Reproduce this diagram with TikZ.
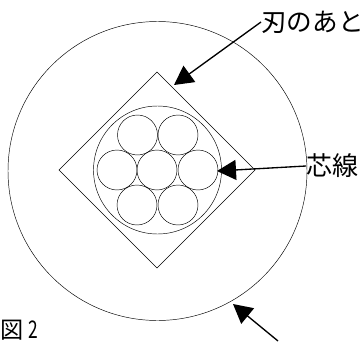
\documentclass[tikz,border=0pt]{standalone}
\usepackage{fontspec}
\newfontfamily\cjk{Noto Sans CJK JP}
\usetikzlibrary{arrows.meta,positioning}
\tikzset{
    wire/.style={draw,circle,inner sep=0pt,minimum size=#1,line width=0.65pt},
    arr/.style={-{Triangle[length=0.95cm,width=1cm]},line width=1.9pt},
    lab/.style={font=\cjk\fontsize{#1}{#1}\selectfont,inner sep=0pt}
}
\begin{document}
\begin{tikzpicture}[x=0.05cm,y=-0.05cm]
\useasboundingbox (0,0) rectangle (364,342);
\node[wire=14.95cm] (outer) at (157.5,171) {};
\node[wire=6.4cm] (core) at (157.5,170) {};
\draw[line width=0.65pt] (157,72) coordinate (dtop) -- (255,170) coordinate (dright)
    -- (157,268) coordinate (dbot) -- (59,170) coordinate (dleft) -- cycle;
% seven strands
\node[wire=2cm] (s1) at (137.5,135) {};
\node[wire=2cm] (s2) at (178,135) {};
\node[wire=2cm] (s3) at (117,170) {};
\node[wire=2cm] (s4) at (157,170) {};
\node[wire=2cm] (s5) at (198,170) {};
\node[wire=2cm] (s6) at (137,205) {};
\node[wire=2cm] (s7) at (178,205) {};
\node[lab=36.5,anchor=west] (blade) at (261,22) {刃のあと};
\node[lab=37,anchor=west] (wirelab) at (306,166) {芯線};
\node[lab=33,anchor=west] (fig) at (0,330) {図\hspace{8pt}\scalebox{0.75}[1.05]{2}};
\coordinate (tipa) at (174,85);
\coordinate (tipb) at (217,171);
\coordinate (tipc) at (233,304);
\coordinate (tailc) at (278,341);
\draw[arr] (blade.west) -- (tipa);
\draw[arr] (wirelab.west) -- (tipb);
\draw[arr] (tailc) -- (tipc);
\end{tikzpicture}
\end{document}
